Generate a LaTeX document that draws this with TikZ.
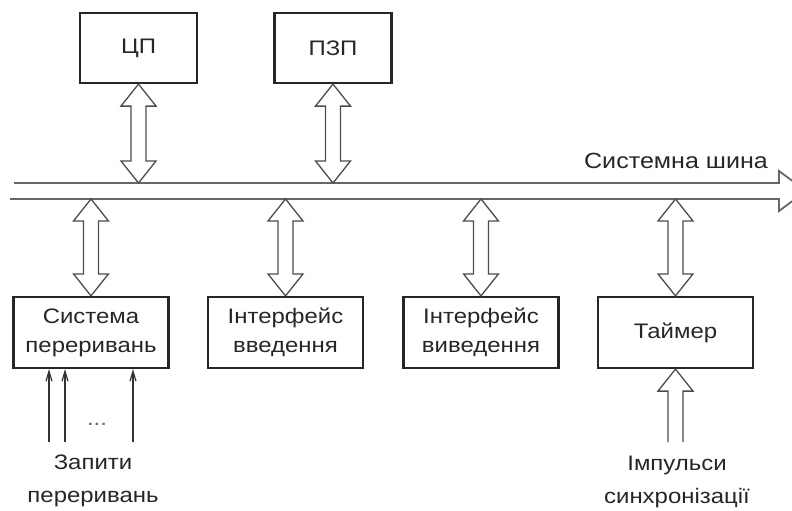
\documentclass[tikz,border=0pt]{standalone}
\usepackage{fontspec}
\setmainfont[FakeStretch=1.14]{Liberation Sans}
\usetikzlibrary{arrows.meta,calc}

\begin{document}
\begin{tikzpicture}[x=1pt, y=-1pt,
	every node/.style={font=\fontsize{21}{29}\selectfont, text=black!85},
	box/.style={draw=black!85, line width=2.2pt, minimum width=155pt, minimum height=71pt, align=center, inner sep=0pt},
	topbox/.style={box, minimum width=117pt, minimum height=70pt},
	dblarr/.style={draw=black!70, line width=1.3pt, to path={let \p1=(\tikztostart), \p2=(\tikztotarget), \n1={\y1-\y2-44pt} in
		-- ++(17.5pt,-22pt) -- ++(-10pt,0pt) -- ++(0pt,-\n1) -- ++(10pt,0pt) -- (\tikztotarget)
		-- ++(-17.5pt,22pt) -- ++(10pt,0pt) -- ++(0pt,\n1) -- ++(-10pt,0pt) -- cycle}},
	sglarr/.style={draw=black!70, line width=1.3pt, to path={let \p1=(\tikztostart), \p2=(\tikztotarget), \n1={\y2-\y1-22pt} in
		++(-7.5pt,0pt) -- ++(0pt,\n1) -- ++(-10pt,0pt) -- (\tikztotarget) -- ++(17.5pt,-22pt) -- ++(-10pt,0pt) -- ++(0pt,-\n1)}},
	busline/.style={draw=black!60, line width=1.8pt},
	label/.style={align=center, font=\fontsize{21}{33}\selectfont},
	>={Straight Barb[length=10pt,width=6pt]}]
	\useasboundingbox (0,0) rectangle (792,511);
	% system bus
	\draw[busline] (14,183) -- (779,183) -- (779,171) -- (806,191) -- (779,211) -- (779,199) -- (10,199);
	\coordinate (bustop) at (0,183);
	\coordinate (busbot) at (0,199);
	\node[font=\fontsize{22}{26}\selectfont] (buslabel) at (676,161) {Системна шина};
	% modules above the bus
	\node[topbox] (cpu) at (138.5,48) {ЦП};
	\node[topbox] (rom) at (333,48) {ПЗП};
	\draw[dblarr] (cpu.south) to (cpu.south |- bustop);
	\draw[dblarr] (rom.south) to (rom.south |- bustop);
	% modules below the bus
	\node[box] (intr) at (91,332.5) {Система\\переривань};
	\node[box] (inp) at (285.5,332.5) {Інтерфейс\\введення};
	\node[box] (outp) at (481,332.5) {Інтерфейс\\виведення};
	\node[box] (timer) at (675.5,332.5) {Таймер};
	\foreach \m in {intr,inp,outp,timer} {\draw[dblarr] (\m.north |- busbot) to (\m.north);}
	% interrupt requests
	\foreach \x [count=\i] in {49,65,133} {\coordinate (q\i) at (\x,442);}
	\foreach \i in {1,2,3} {\draw[->, draw=black!80, line width=1.2pt] (q\i) -- (q\i |- intr.south);}
	\node[text=black!60] (dots) at (97,424) {...};
	\node[label] (req) at (93,481) {Запити\\переривань};
	% timer sync
	\coordinate (sync) at (675.5,442);
	\draw[sglarr] (sync) to (timer.south);
	\node[label] (synclabel) at (677,482) {Імпульси\\синхронізації};
\end{tikzpicture}
\end{document}
